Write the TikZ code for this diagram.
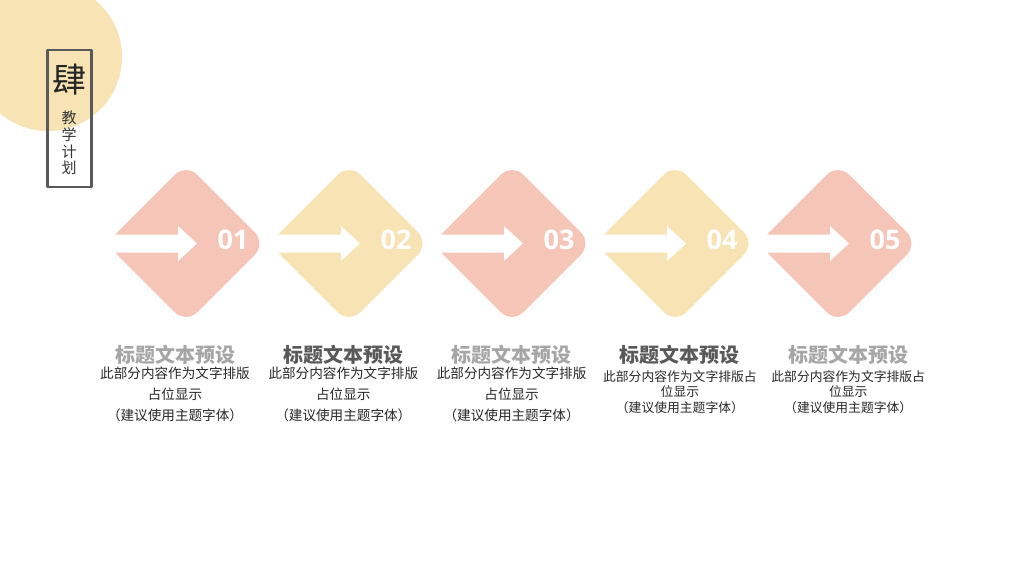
\documentclass[tikz,border=0pt]{standalone}
\usepackage{fontspec}
\setmainfont{Open Sans}
\newfontfamily\cjk{Noto Sans CJK SC}
\definecolor{dpink}{HTML}{F5C6B8}
\definecolor{dyellow}{HTML}{F7E3B3}
\definecolor{tlight}{HTML}{A6A6A6}
\definecolor{tdark}{HTML}{595959}
\definecolor{framegray}{HTML}{595959}
\definecolor{bodytext}{HTML}{262626}
\tikzset{
  numtext/.style={text=white,font=\bfseries\fontsize{27}{27}\selectfont,inner sep=0},
  titletext/.style={font=\cjk\bfseries\fontsize{20}{20}\selectfont,inner sep=0},
  bodyA/.style={font=\cjk\fontsize{13.6}{21}\selectfont,align=center,inner sep=0,text=bodytext,anchor=north},
  bodyB/.style={font=\cjk\fontsize{12.8}{15.5}\selectfont,align=center,inner sep=0,text=bodytext,anchor=north},
}
\begin{document}
\begin{tikzpicture}[x=1pt,y=-1pt,line join=round]
\useasboundingbox (0,0) rectangle (1024,576);
\fill[dyellow] (48,57) circle (74);
\draw[framegray,line width=2.5pt] (47.5,50) rectangle (91.5,187);
\node[font=\cjk\fontsize{34}{34}\selectfont,text=black!85,inner sep=0] (si) at (69,80) {肆};
\node[font=\cjk\fontsize{15}{16.7}\selectfont,text=black!80,align=center,anchor=north,inner sep=0] (plan) at (69,111) {教\\学\\计\\划};
\foreach \i/\col/\num in {0/dpink/01,1/dyellow/02,2/dpink/03,3/dyellow/04,4/dpink/05}{
  \pgfmathsetmacro{\cx}{186+163*\i}
  \fill[\col,rounded corners=16pt] (\cx-80,243.5)--(\cx,163.5)--(\cx+80,243.5)--(\cx,323.5)--cycle;
  \fill[white] (\cx-78,234.5)--(\cx-8,234.5)--(\cx-8,226)--(\cx+11,243.5)--(\cx-8,261)--(\cx-8,252.5)--(\cx-78,252.5)--cycle;
  \node[numtext] (n\i) at (\cx+47,240) {\num};
}
\foreach \i/\tcol in {0/tlight,1/tdark,2/tlight,3/tdark,4/tlight}
  \node[titletext,text=\tcol] (t\i) at (175+168.3*\i,355) {标题文本预设};
\foreach \i in {0,1,2}
  \node[bodyA] (b\i) at (175+168.3*\i,367) {此部分内容作为文字排版\\占位显示\\（建议使用主题字体）};
\foreach \i in {3,4}
  \node[bodyB] (b\i) at (175+168.3*\i,370) {此部分内容作为文字排版占\\位显示\\（建议使用主题字体）};
\end{tikzpicture}
\end{document}
